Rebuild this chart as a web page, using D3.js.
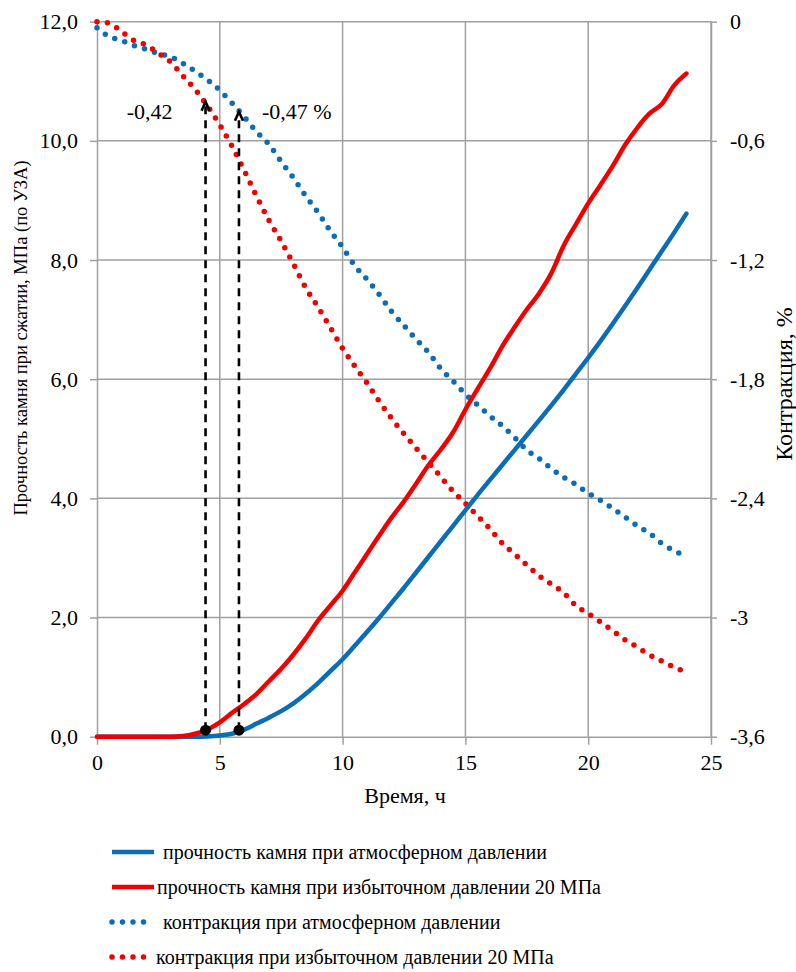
<!DOCTYPE html>
<html><head><meta charset="utf-8">
<script src="https://cdn.jsdelivr.net/npm/d3@7"></script>
<style>
body{margin:0;background:#fff}
svg{display:block}
</style>
</head><body>
<svg id="c" width="796" height="972"></svg>
<script>
// ---- data ----
const hours = [0,0.5,1,1.5,2,2.5,3,3.5,4,4.5,5,5.5,6,6.5,7,7.5,8,8.5,9,9.5,10,10.5,11,11.5,12,12.5,13,13.5,14,14.5,15,15.5,16,16.5,17,17.5,18,18.5,19,19.5,20,20.5,21,21.5,22,22.5,23,23.5,24];
const strengthAtm = [0,0,0,0,0,0,0,0,0,0.005,0.02,0.05,0.12,0.22,0.32,0.43,0.56,0.72,0.9,1.1,1.3,1.53,1.76,2.0,2.25,2.5,2.76,3.02,3.28,3.54,3.8,4.06,4.31,4.56,4.81,5.06,5.31,5.56,5.82,6.09,6.36,6.64,6.93,7.23,7.53,7.84,8.15,8.46,8.78];
const strengthP20 = [0,0,0,0,0,0,0,0.01,0.05,0.12,0.24,0.4,0.55,0.72,0.93,1.14,1.38,1.65,1.95,2.2,2.45,2.76,3.07,3.38,3.68,3.95,4.25,4.56,4.82,5.11,5.49,5.84,6.18,6.55,6.87,7.17,7.44,7.78,8.24,8.6,8.95,9.26,9.58,9.93,10.22,10.46,10.62,10.93,11.13];
const contrAtm = [-0.03,-0.075,-0.094,-0.12,-0.139,-0.16,-0.176,-0.21,-0.25,-0.293,-0.345,-0.41,-0.48,-0.555,-0.617,-0.705,-0.787,-0.878,-0.96,-1.054,-1.135,-1.229,-1.298,-1.375,-1.46,-1.53,-1.6,-1.665,-1.747,-1.81,-1.875,-1.93,-1.985,-2.035,-2.093,-2.157,-2.2,-2.25,-2.294,-2.33,-2.374,-2.41,-2.45,-2.494,-2.538,-2.576,-2.627,-2.664,-2.69];
const contrP20 = [0,-0.008,-0.05,-0.094,-0.117,-0.158,-0.203,-0.273,-0.342,-0.425,-0.52,-0.628,-0.75,-0.88,-1.0,-1.105,-1.22,-1.34,-1.437,-1.54,-1.645,-1.735,-1.82,-1.913,-1.998,-2.075,-2.148,-2.22,-2.292,-2.364,-2.425,-2.49,-2.553,-2.626,-2.68,-2.735,-2.79,-2.832,-2.875,-2.94,-2.98,-3.022,-3.067,-3.112,-3.149,-3.188,-3.22,-3.25,-3.275];

const xTicks = [0,5,10,15,20,25];
const yLeftTicks = [0,2,4,6,8,10,12];
const yRightTicks = [0,-0.6,-1.2,-1.8,-2.4,-3,-3.6];

const markTimes = [4.42,5.78];
const markStrength = [0.11,0.11];
const markContr = [-0.403,-0.453];
const markLabels = ["-0,42","-0,47 %"];

const seriesNames = [
  "прочность камня при атмосферном давлении",
  "прочность камня при избыточном давлении 20 МПа",
  "контракция при атмосферном давлении",
  "контракция при избыточном давлении 20 МПа"
];
const xTitle = "Время, ч";
const yLeftTitle = "Прочность камня при сжатии, МПа (по УЗА)";
const yRightTitle = "Контракция, %";

// ---- drawing ----
const FONT = '"Liberation Serif"';
const BLUE = "#0b6db7", RED = "#f20000", GRID = "#a0a0a0";
const svg = d3.select("#c");
const x = d3.scaleLinear().domain([0,25]).range([97,711]);
const yL = d3.scaleLinear().domain([0,12]).range([736.7,21.7]);
const yR = d3.scaleLinear().domain([-3.6,0]).range([736.7,21.7]);

// grid
const g = svg.append("g");
g.selectAll("line.v").data(xTicks.slice(1)).enter().append("line")
  .attr("x1",d=>x(d)).attr("x2",d=>x(d)).attr("y1",yL(0)).attr("y2",yL(12))
  .attr("stroke",GRID).attr("stroke-width",1.5);
g.selectAll("line.h").data(yLeftTicks.slice(1)).enter().append("line")
  .attr("x1",x(0)).attr("x2",x(25)).attr("y1",d=>yL(d)).attr("y2",d=>yL(d))
  .attr("stroke",GRID).attr("stroke-width",1.5);

function txt(sel,size){return sel.style("font-family",FONT).style("font-size",size+"px").attr("fill","#000");}
function styleAxis(sel){
  sel.attr("font-family",null).attr("font-size",null);
  sel.selectAll("path,line").attr("stroke",GRID).attr("stroke-width",1.5);
  txt(sel.selectAll("text"),22);
}
const fmtL = d=>d.toFixed(1).replace(".",",");
const fmtR = d=>d===0?"0":String(d).replace(".",",");

svg.append("g").attr("transform",`translate(${x(0)},0)`)
  .call(d3.axisLeft(yL).tickValues(yLeftTicks).tickFormat(fmtL).tickSize(7).tickPadding(12).tickSizeOuter(0))
  .call(styleAxis);
svg.append("g").attr("transform",`translate(${x(25)},0)`)
  .call(d3.axisRight(yR).tickValues(yRightTicks).tickFormat(fmtR).tickSize(6).tickPadding(13).tickSizeOuter(0))
  .call(styleAxis);
svg.append("g").attr("transform",`translate(0,${yL(0)})`)
  .call(d3.axisBottom(x).tickValues(xTicks).tickFormat(d3.format("d")).tickSize(8).tickPadding(10).tickSizeOuter(0))
  .call(styleAxis);

// lines
const pts = arr => hours.map((h,i)=>[h,arr[i]]);
const lineL = d3.line().x(d=>x(d[0])).y(d=>yL(d[1])).curve(d3.curveMonotoneX);
const lineR = d3.line().x(d=>x(d[0])).y(d=>yR(d[1])).curve(d3.curveMonotoneX);

const dotted = {"stroke-width":5.5,"stroke-linecap":"round","stroke-dasharray":"0 10.5","fill":"none"};
function applyAttrs(sel,o){for(const k in o) sel.attr(k,o[k]); return sel;}

applyAttrs(svg.append("path").attr("d",lineR(pts(contrAtm))).attr("stroke",BLUE),dotted);
applyAttrs(svg.append("path").attr("d",lineR(pts(contrP20))).attr("stroke",RED),dotted);
svg.append("path").attr("d",lineL(pts(strengthAtm))).attr("stroke",BLUE).attr("stroke-width",4.5).attr("fill","none").attr("stroke-linejoin","round").attr("stroke-linecap","round");
svg.append("path").attr("d",lineL(pts(strengthP20))).attr("stroke",RED).attr("stroke-width",4.5).attr("fill","none").attr("stroke-linejoin","round").attr("stroke-linecap","round");

// annotations
markTimes.forEach((t,i)=>{
  const xx = x(t), yb = yL(markStrength[i]), yt = yR(markContr[i]);
  svg.append("line").attr("x1",xx).attr("x2",xx).attr("y1",yb).attr("y2",yt+3)
    .attr("stroke","#000").attr("stroke-width",2.6).attr("stroke-dasharray","8 6");
  svg.append("path").attr("d",`M${xx-4},${yt+9}L${xx},${yt}L${xx+4},${yt+9}`)
    .attr("stroke","#000").attr("stroke-width",2.6).attr("fill","none");
  svg.append("circle").attr("cx",xx).attr("cy",yb).attr("r",5.5).attr("fill","#000");
  txt(svg.append("text").attr("x", i===0 ? xx-33 : xx+23).attr("y",119)
    .attr("text-anchor", i===0 ? "end" : "start"),22).text(markLabels[i]);
});

// axis titles
txt(svg.append("text").attr("x",405).attr("y",803).attr("text-anchor","middle"),22).text(xTitle);
txt(svg.append("text").attr("transform","translate(27,338) rotate(-90)").attr("text-anchor","middle"),18.5).text(yLeftTitle);
txt(svg.append("text").attr("transform","translate(792,384) rotate(-90)").attr("text-anchor","middle"),24).text(yRightTitle);

// legend
const legY = [852,887,922,957];
const legTextX = [163,157,163,156];
const legColors = [BLUE,RED,BLUE,RED];
seriesNames.forEach((name,i)=>{
  const ln = svg.append("line").attr("x1",112).attr("x2",i<2?154:153).attr("y1",legY[i]).attr("y2",legY[i]).attr("stroke",legColors[i]);
  if(i<2) ln.attr("stroke-width",4.5); else applyAttrs(ln,dotted);
  txt(svg.append("text").attr("x",legTextX[i]).attr("y",legY[i]).attr("dy","0.35em"),20).text(name);
});
</script>
</body></html>
